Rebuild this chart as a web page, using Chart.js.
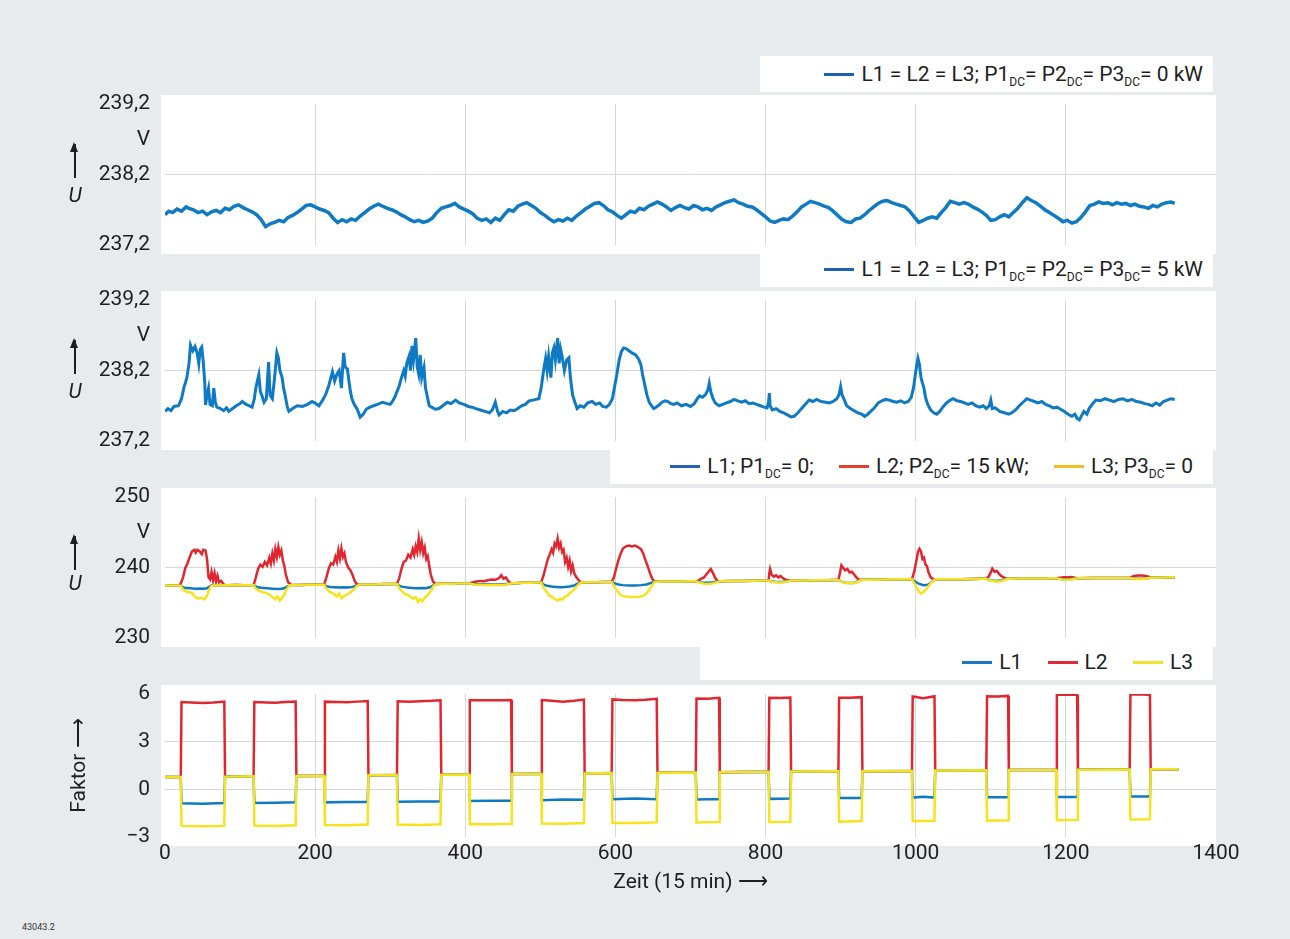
<!DOCTYPE html>
<html lang="de">
<head>
<meta charset="utf-8">
<title>Spannung und Faktor</title>
<script src="https://cdn.jsdelivr.net/npm/chart.js@4.4.1/dist/chart.umd.min.js"></script>
<style>
  html, body { margin: 0; padding: 0; }
  body {
    width: 1290px; height: 939px; position: relative; overflow: hidden;
    background: #e8ebee; color: #1e1e1e;
    font-family: Roboto, "Liberation Sans", sans-serif;
  }
  canvas { position: absolute; left: 0; }
  .leg {
    position: absolute; background: #fff; box-sizing: border-box; z-index: 2;
    font-size: 21px; line-height: 36px; height: 36px; text-align: right; white-space: nowrap;
  }
  .leg .it { display: inline-block; margin-left: 20px; }
  .leg .ln { display: inline-block; width: 30px; height: 3px; vertical-align: middle; margin-right: 7px; position: relative; top: -1px; }
  .leg sub { font-size: 12px; vertical-align: -5px; line-height: 0; }
  .ulab { position: absolute; left: 62px; width: 26px; text-align: center; font-size: 21px; font-style: italic; z-index: 2; line-height: 24px; }
  .arr { position: absolute; left: 74px; width: 1.6px; background: #1e1e1e; z-index: 2; }
  .arr::before {
    content: ''; position: absolute; left: -4px; top: -2px;
    border-left: 4.8px solid transparent; border-right: 4.8px solid transparent; border-bottom: 10px solid #1e1e1e;
  }
  .code { position: absolute; left: 22px; top: 922px; font-size: 9px; color: #333; }
</style>
</head>
<body>

<div class="leg" style="left:760px; top:56px; width:453px; padding-right:10px;">
  <span class="it"><span class="ln" style="background:#1f62b2"></span>L1 = L2 = L3; P1<sub>DC</sub>= P2<sub>DC</sub>= P3<sub>DC</sub>= 0 kW</span>
</div>
<div class="leg" style="left:760px; top:251px; width:453px; padding-right:10px;">
  <span class="it"><span class="ln" style="background:#1f62b2"></span>L1 = L2 = L3; P1<sub>DC</sub>= P2<sub>DC</sub>= P3<sub>DC</sub>= 5 kW</span>
</div>
<div class="leg" style="left:610px; top:448px; width:603px; padding-right:20px;">
  <span class="it"><span class="ln" style="background:#2a62b0"></span>L1; P1<sub>DC</sub>= 0;</span>
  <span class="it"><span class="ln" style="background:#e4402c"></span>L2; P2<sub>DC</sub>= 15 kW;</span>
  <span class="it"><span class="ln" style="background:#f3bd24"></span>L3; P3<sub>DC</sub>= 0</span>
</div>
<div class="leg" style="left:700px; top:644px; width:513px; padding-right:20px;">
  <span class="it"><span class="ln" style="background:#1a78c8"></span>L1</span>
  <span class="it"><span class="ln" style="background:#e02a36"></span>L2</span>
  <span class="it"><span class="ln" style="background:#f4e030"></span>L3</span>
</div>

<div class="arr" style="top:144px; height:34px;"></div>
<div class="ulab" style="top:183px;">U</div>
<div class="arr" style="top:340px; height:34px;"></div>
<div class="ulab" style="top:379px;">U</div>
<div class="arr" style="top:536px; height:34px;"></div>
<div class="ulab" style="top:571px;">U</div>

<canvas id="c1" width="1290" height="197" style="top:76px"></canvas>
<canvas id="c2" width="1290" height="197" style="top:272px"></canvas>
<canvas id="c3" width="1290" height="197" style="top:469px"></canvas>
<canvas id="c4" width="1290" height="241" style="top:666px"></canvas>

<div class="code">43043.2</div>

<script>
const FONT = 'Roboto, "Liberation Sans", sans-serif';

// x axis (Zeit in 15-min steps)
const xMin = 0, xMax = 1400, xStep = 200;

// Panel 1: L1 = L2 = L3, P_DC = 0 kW  [x, U in V]
const u0kW = [
  [0,237.63],[5,237.68],[10,237.66],[16,237.71],[22,237.68],[28,237.74],[32,237.72],[38,237.70],[44,237.66],[50,237.68],
  [56,237.63],[62,237.67],[68,237.69],[74,237.66],[80,237.72],[86,237.70],[92,237.75],[98,237.77],[104,237.73],[110,237.70],
  [116,237.67],[122,237.63],[128,237.56],[134,237.46],[140,237.50],[146,237.52],[152,237.55],[158,237.53],[164,237.59],[170,237.62],
  [176,237.66],[182,237.71],[188,237.76],[194,237.77],[200,237.74],[206,237.71],[212,237.69],[218,237.66],[224,237.58],[230,237.52],
  [236,237.56],[242,237.53],[248,237.57],[254,237.55],[260,237.61],[266,237.66],[272,237.71],[278,237.75],[284,237.78],[290,237.75],
  [296,237.72],[302,237.70],[308,237.67],[314,237.63],[320,237.60],[326,237.56],[332,237.53],[338,237.55],[344,237.52],[350,237.54],
  [356,237.58],[362,237.66],[368,237.72],[374,237.74],[380,237.76],[386,237.79],[392,237.74],[398,237.71],[404,237.68],[410,237.64],
  [416,237.58],[422,237.55],[428,237.57],[434,237.52],[440,237.58],[446,237.55],[452,237.63],[458,237.70],[464,237.68],[470,237.75],
  [476,237.78],[482,237.80],[488,237.76],[494,237.72],[500,237.66],[506,237.62],[512,237.57],[518,237.53],[524,237.56],[530,237.54],
  [536,237.58],[542,237.55],[548,237.61],[554,237.66],[560,237.71],[566,237.75],[572,237.79],[578,237.80],[584,237.76],[590,237.70],
  [596,237.67],[602,237.62],[608,237.58],[614,237.63],[620,237.68],[626,237.66],[632,237.72],[638,237.70],[644,237.75],[650,237.78],
  [656,237.81],[662,237.78],[668,237.74],[674,237.69],[680,237.73],[686,237.76],[692,237.73],[698,237.71],[704,237.76],[710,237.74],
  [716,237.70],[722,237.72],[728,237.69],[734,237.74],[740,237.77],[746,237.80],[752,237.82],[758,237.84],[764,237.80],[770,237.78],
  [776,237.75],[782,237.74],[788,237.70],[794,237.65],[800,237.60],[806,237.54],[812,237.52],[818,237.55],[824,237.57],[830,237.56],
  [836,237.61],[842,237.67],[848,237.74],[854,237.78],[860,237.82],[866,237.80],[872,237.78],[878,237.75],[884,237.73],[890,237.68],
  [896,237.62],[902,237.56],[908,237.53],[914,237.52],[920,237.57],[926,237.58],[932,237.63],[938,237.69],[944,237.74],[950,237.79],
  [956,237.82],[962,237.83],[968,237.80],[974,237.78],[980,237.76],[986,237.74],[992,237.68],[998,237.60],[1004,237.52],[1010,237.55],
  [1016,237.58],[1022,237.60],[1028,237.58],[1034,237.66],[1040,237.73],[1046,237.82],[1052,237.80],[1058,237.78],[1064,237.80],[1070,237.78],
  [1076,237.74],[1082,237.71],[1088,237.67],[1094,237.62],[1100,237.55],[1106,237.56],[1112,237.60],[1118,237.63],[1124,237.60],[1130,237.66],
  [1136,237.72],[1142,237.80],[1148,237.87],[1154,237.83],[1160,237.80],[1166,237.75],[1172,237.70],[1178,237.66],[1184,237.62],[1190,237.58],
  [1196,237.53],[1202,237.55],[1208,237.51],[1214,237.53],[1220,237.59],[1226,237.67],[1232,237.76],[1238,237.78],[1244,237.81],[1250,237.79],
  [1256,237.80],[1262,237.77],[1268,237.80],[1274,237.78],[1280,237.79],[1286,237.76],[1292,237.78],[1298,237.75],[1304,237.74],[1310,237.72],
  [1316,237.76],[1322,237.74],[1328,237.78],[1334,237.80],[1340,237.81],[1345,237.79]
];

// Panel 2: L1 = L2 = L3, P_DC = 5 kW
const u5kW = [
  [0,237.62],[4,237.66],[8,237.63],[12,237.69],[18,237.70],[22,237.80],[25,237.95],[29,238.09],[32,238.30],[34,238.56],
  [37,238.48],[40,238.54],[43,238.44],[45,238.30],[47,238.50],[49,238.53],[51,238.32],[53,238.02],[54,237.71],[56,237.85],
  [58,237.95],[60,237.72],[63,237.70],[65,237.95],[67,237.75],[69,237.68],[74,237.66],[78,237.63],[82,237.67],[85,237.62],
  [90,237.66],[95,237.70],[100,237.73],[103,237.76],[108,237.72],[112,237.70],[116,237.68],[119,237.80],[121,237.95],[123,238.05],
  [125,238.14],[127,237.90],[129,237.85],[132,237.75],[135,237.80],[138,238.32],[140,237.85],[143,237.80],[146,238.10],[149,238.45],
  [151,238.38],[153,238.20],[156,238.10],[158,237.95],[160,237.85],[163,237.68],[165,237.62],[170,237.66],[176,237.70],[183,237.69],
  [190,237.72],[196,237.76],[200,237.74],[205,237.70],[210,237.78],[214,237.86],[218,237.98],[221,238.10],[223,238.18],[226,238.05],
  [229,238.15],[232,238.20],[235,237.95],[237,238.30],[238,238.45],[240,238.25],[243,238.22],[245,238.05],[247,237.90],[249,237.80],
  [252,237.72],[256,237.65],[260,237.54],[264,237.58],[268,237.65],[273,237.68],[278,237.70],[283,237.72],[290,237.75],[296,237.73],
  [300,237.72],[303,237.76],[306,237.82],[309,237.90],[312,237.98],[315,238.10],[318,238.20],[320,238.12],[322,238.30],[325,238.40],
  [327,238.20],[329,238.55],[331,238.35],[334,238.66],[336,238.25],[338,238.15],[340,238.42],[342,238.10],[345,238.24],[347,237.95],
  [350,237.80],[352,237.70],[355,237.68],[360,237.65],[365,237.66],[370,237.70],[376,237.75],[381,237.73],[387,237.78],[392,237.74],
  [398,237.72],[404,237.69],[409,237.68],[414,237.66],[420,237.64],[426,237.62],[432,237.60],[436,237.64],[440,237.75],[443,237.62],
  [445,237.57],[450,237.62],[455,237.60],[460,237.64],[465,237.63],[470,237.66],[475,237.70],[480,237.72],[485,237.77],[490,237.78],
  [494,237.79],[498,237.80],[501,237.95],[503,238.10],[505,238.25],[507,238.37],[509,238.20],[511,238.40],[514,238.10],[516,238.45],
  [518,238.52],[520,238.35],[523,238.66],[525,238.30],[527,238.50],[529,238.40],[532,238.20],[535,238.35],[538,238.38],[540,238.10],
  [543,237.85],[546,237.75],[549,237.66],[553,237.70],[558,237.68],[563,237.74],[569,237.76],[574,237.72],[579,237.74],[583,237.69],
  [588,237.68],[592,237.72],[596,237.80],[599,237.98],[602,238.15],[605,238.35],[608,238.47],[611,238.52],[614,238.51],[618,238.48],
  [622,238.45],[627,238.42],[631,238.36],[634,238.28],[636,238.15],[639,238.00],[642,237.85],[645,237.75],[648,237.70],[651,237.66],
  [654,237.68],[658,237.71],[662,237.75],[666,237.77],[670,237.76],[674,237.73],[678,237.72],[682,237.74],[688,237.70],[694,237.72],
  [700,237.69],[705,237.73],[709,237.80],[712,237.84],[716,237.82],[720,237.86],[723,237.92],[725,238.02],[727,237.90],[730,237.80],
  [733,237.74],[738,237.70],[743,237.72],[748,237.74],[753,237.76],[758,237.79],[763,237.77],[768,237.75],[773,237.77],[778,237.73],
  [783,237.74],[788,237.72],[793,237.70],[798,237.68],[802,237.67],[804,237.75],[805,237.88],[806,237.70],[809,237.64],[814,237.66],
  [819,237.62],[824,237.60],[829,237.57],[834,237.54],[838,237.55],[843,237.60],[848,237.66],[853,237.72],[858,237.78],[863,237.76],
  [868,237.79],[874,237.76],[880,237.75],[885,237.74],[890,237.76],[895,237.80],[898,237.86],[900,237.97],[902,237.85],[905,237.78],
  [908,237.70],[913,237.66],[918,237.63],[923,237.60],[928,237.58],[932,237.55],[936,237.58],[940,237.62],[945,237.67],[950,237.74],
  [955,237.77],[960,237.79],[965,237.78],[970,237.76],[975,237.75],[980,237.77],[985,237.74],[990,237.76],[994,237.82],[997,237.95],
  [999,238.10],[1001,238.25],[1003,238.37],[1005,238.28],[1007,238.10],[1009,238.02],[1011,237.95],[1013,237.82],[1016,237.72],[1020,237.64],
  [1024,237.60],[1028,237.58],[1032,237.62],[1036,237.68],[1041,237.74],[1046,237.78],[1050,237.80],[1055,237.77],[1060,237.76],[1065,237.74],
  [1070,237.72],[1075,237.74],[1080,237.70],[1085,237.68],[1090,237.70],[1094,237.66],[1098,237.70],[1100,237.78],[1102,237.66],[1106,237.67],
  [1112,237.62],[1118,237.60],[1124,237.58],[1128,237.60],[1133,237.64],[1138,237.70],[1143,237.75],[1148,237.80],[1153,237.78],[1158,237.76],
  [1163,237.74],[1168,237.76],[1173,237.72],[1178,237.70],[1183,237.67],[1188,237.68],[1193,237.65],[1198,237.62],[1203,237.58],[1208,237.55],
  [1212,237.58],[1215,237.52],[1218,237.50],[1221,237.56],[1224,237.62],[1228,237.58],[1231,237.66],[1235,237.72],[1240,237.78],[1246,237.77],
  [1252,237.80],[1258,237.78],[1264,237.76],[1270,237.79],[1276,237.80],[1282,237.77],[1288,237.79],[1294,237.76],[1300,237.75],[1305,237.73],
  [1310,237.72],[1315,237.70],[1320,237.74],[1325,237.71],[1330,237.76],[1335,237.78],[1340,237.80],[1345,237.79]
];

// Panel 3: only L2 fed with 15 kW
const u15L1 = [
  [0,237.45],[10,237.44],[18,237.46],[21,237.42],[24,237.2],[28,237.08],[34,237.05],[40,237.0],[46,237.02],[52,236.98],[56,237.05],[59,237.3],[62,237.45],
  [84,237.47],[95,237.50],[105,237.48],[115,237.50],
  [118,237.5],[121,237.3],[125,237.15],[131,237.1],[137,237.05],[143,237.0],[149,236.95],[155,237.0],[160,237.1],[164,237.35],[168,237.5],
  [180,237.52],[190,237.55],[200,237.57],[208,237.56],
  [212,237.56],[215,237.35],[220,237.25],[226,237.2],[232,237.15],[238,237.2],[244,237.15],[250,237.25],[255,237.45],[260,237.58],
  [276,237.6],[285,237.62],[295,237.65],[305,237.66],
  [309,237.66],[312,237.4],[317,237.25],[323,237.15],[329,237.1],[335,237.05],[341,237.1],[347,237.05],[353,237.2],[358,237.5],[362,237.66],
  [372,237.68],[382,237.70],[392,237.72],[402,237.72],
  [405,237.72],[412,237.65],[420,237.62],[430,237.6],[440,237.62],[450,237.6],[458,237.68],[462,237.76],
  [466,237.78],[476,237.82],[486,237.85],[496,237.86],
  [501,237.86],[504,237.6],[509,237.4],[515,237.3],[521,237.25],[527,237.2],[533,237.25],[539,237.3],[545,237.45],[550,237.7],[554,237.88],
  [564,237.9],[574,237.92],[584,237.95],[593,237.96],
  [595,237.96],[599,237.75],[604,237.6],[610,237.5],[618,237.45],[626,237.45],[634,237.5],[641,237.6],[647,237.8],[652,237.98],
  [660,238.0],[670,238.02],[680,238.0],[690,238.03],[700,238.05],
  [707,238.05],[712,237.9],[718,237.85],[724,237.85],[730,237.9],[736,238.02],[739,238.06],
  [755,238.08],[770,238.1],[785,238.12],[798,238.14],
  [804,238.14],[808,238.0],[815,237.95],[822,237.95],[829,238.05],[834,238.15],
  [850,238.15],[865,238.18],[880,238.2],[893,238.22],
  [897,238.22],[901,238.0],[907,237.85],[913,237.8],[919,237.85],[924,238.1],[929,238.25],
  [945,238.26],[960,238.3],[975,238.32],[990,238.34],
  [995,238.34],[999,238.0],[1004,237.7],[1010,237.5],[1016,237.55],[1021,237.9],[1026,238.35],
  [1045,238.32],[1060,238.35],[1075,238.38],[1088,238.40],
  [1094,238.40],[1099,238.2],[1106,238.1],[1113,238.15],[1120,238.35],[1124,238.42],
  [1140,238.44],[1155,238.43],[1170,238.45],[1183,238.46],
  [1187,238.46],[1195,238.35],[1205,238.32],[1216,238.48],
  [1235,238.5],[1250,238.52],[1265,238.5],[1280,238.52],
  [1285,238.52],[1293,238.42],[1303,238.4],[1313,238.55],
  [1330,238.58],[1345,238.60]
];
const u15L2 = [
  [0,237.45],[10,237.44],[18,237.46],
  [21,237.7],[24,238.6],[27,239.9],[30,240.6],[33,241.5],[36,242.3],[39,242.5],[41,242.1],[43,242.5],[46,242.3],[49,241.9],[51,242.5],[54,242.4],
  [56,241.2],[58,238.6],[60,238.3],[62,239.4],[64,238.2],[66,239.2],[68,238.0],[70,238.8],[72,237.9],[75,238.1],[78,237.6],[80,237.5],
  [84,237.47],[95,237.50],[105,237.48],[115,237.50],
  [118,237.5],[121,238.6],[124,239.8],[127,240.4],[130,240.1],[133,240.8],[136,240.3],[139,241.4],[141,240.6],[143,242.0],[145,241.0],[147,242.6],
  [149,241.5],[151,242.9],[153,241.8],[155,242.4],[157,241.0],[159,240.2],[161,239.0],[164,237.9],[168,237.55],
  [180,237.52],[190,237.55],[200,237.57],[208,237.56],
  [212,237.56],[215,238.6],[218,239.8],[221,240.6],[224,240.4],[227,241.5],[229,240.8],[231,242.4],[233,241.3],[235,242.7],[237,241.5],[239,242.0],
  [241,240.8],[244,240.0],[247,239.6],[250,238.9],[253,238.0],[256,237.6],[262,237.58],
  [276,237.6],[285,237.62],[295,237.65],[305,237.66],
  [309,237.66],[312,238.5],[315,239.8],[318,240.8],[321,241.0],[324,241.8],[327,241.4],[330,242.6],[332,241.8],[334,243.0],[336,242.2],[338,244.1],
  [340,242.5],[342,243.6],[344,242.0],[346,242.8],[348,241.2],[350,241.6],[352,240.2],[354,239.0],[357,238.0],[360,237.7],[368,237.68],
  [382,237.70],[392,237.72],[402,237.72],
  [405,237.72],[410,237.9],[415,238.0],[420,238.1],[425,238.05],[430,238.2],[435,238.3],[440,238.25],[445,238.5],[448,238.9],[451,238.4],[454,238.6],
  [457,238.1],[460,237.85],[462,237.78],
  [466,237.78],[476,237.82],[486,237.85],[496,237.86],
  [501,237.86],[504,238.8],[507,240.0],[510,241.2],[513,242.0],[515,242.6],[517,242.1],[519,243.4],[521,243.0],[523,244.1],[525,242.8],[527,243.4],
  [529,242.2],[531,242.5],[533,240.8],[535,241.4],[537,240.1],[539,241.0],[541,239.5],[543,240.3],[545,239.2],[548,238.6],[551,238.2],[554,237.9],
  [564,237.9],[574,237.92],[584,237.95],[593,237.96],
  [595,237.96],[598,238.6],[601,239.9],[604,241.0],[607,242.0],[610,242.7],[614,243.0],[618,243.1],[622,243.0],[626,243.1],[630,242.9],[634,242.6],
  [637,242.0],[640,241.0],[643,240.2],[646,239.2],[649,238.4],[652,238.05],[656,238.0],
  [670,238.02],[680,238.0],[690,238.03],[700,238.05],
  [707,238.05],[710,238.1],[714,238.4],[718,238.6],[721,239.0],[724,239.4],[727,239.8],[730,239.2],[733,238.5],[736,238.1],[739,238.06],
  [755,238.08],[770,238.1],[785,238.12],[798,238.14],
  [804,238.14],[805,239.2],[806,239.8],[808,239.0],[811,238.7],[814,238.9],[817,238.6],[820,238.8],[823,238.5],[826,238.3],[829,238.2],[834,238.15],
  [850,238.15],[865,238.18],[880,238.2],[893,238.22],
  [897,238.22],[899,239.2],[901,240.3],[903,240.0],[906,239.6],[909,239.8],[912,239.3],[915,239.4],[918,239.0],[921,238.6],[924,238.3],[929,238.25],
  [945,238.26],[960,238.3],[975,238.32],[990,238.34],
  [995,238.34],[998,239.4],[1001,241.0],[1003,242.2],[1005,242.65],[1007,242.3],[1009,241.2],[1011,241.4],[1013,240.4],[1015,240.2],[1017,239.3],
  [1020,238.6],[1023,238.36],[1026,238.35],
  [1045,238.32],[1060,238.35],[1075,238.38],[1088,238.40],
  [1094,238.40],[1097,238.7],[1100,239.3],[1102,239.85],[1105,239.4],[1108,239.5],[1111,239.1],[1114,238.8],[1117,238.6],[1120,238.45],[1124,238.42],
  [1140,238.44],[1155,238.43],[1170,238.45],[1183,238.46],
  [1187,238.46],[1192,238.55],[1197,238.62],[1202,238.6],[1207,238.66],[1212,238.55],[1216,238.48],
  [1235,238.5],[1250,238.52],[1265,238.5],[1280,238.52],
  [1285,238.52],[1290,238.75],[1295,238.85],[1300,238.88],[1305,238.82],[1310,238.7],[1313,238.55],
  [1330,238.58],[1345,238.60]
];
const u15L3 = [
  [0,237.45],[10,237.44],[18,237.46],
  [21,237.4],[24,236.9],[28,236.6],[33,236.5],[37,236.3],[40,235.8],[44,235.6],[48,235.7],[52,235.5],[55,235.8],[58,236.6],[61,237.3],[64,237.46],
  [84,237.47],[95,237.50],[105,237.48],[115,237.50],
  [118,237.5],[121,237.0],[125,236.7],[130,236.5],[135,236.4],[140,236.1],[143,235.8],[147,235.5],[150,235.9],[153,235.3],[156,235.7],[159,236.2],
  [162,236.9],[166,237.5],
  [180,237.52],[190,237.55],[200,237.57],[208,237.56],
  [212,237.56],[215,237.0],[219,236.6],[224,236.3],[229,235.9],[232,236.3],[235,235.6],[238,235.9],[241,236.1],[246,236.4],[251,236.8],[255,237.3],
  [259,237.58],
  [276,237.6],[285,237.62],[295,237.65],[305,237.66],
  [309,237.66],[312,237.1],[316,236.6],[320,236.2],[325,236.0],[330,235.6],[334,235.8],[337,235.1],[340,235.5],[343,235.2],[346,235.7],[350,236.1],
  [354,236.7],[358,237.4],[362,237.68],
  [372,237.68],[382,237.70],[392,237.72],[402,237.72],
  [405,237.72],[412,237.6],[420,237.55],[430,237.5],[440,237.55],[450,237.5],[458,237.65],[462,237.78],
  [466,237.78],[476,237.82],[486,237.85],[496,237.86],
  [501,237.86],[504,237.2],[508,236.6],[512,236.0],[516,235.8],[520,235.5],[523,235.3],[526,235.6],[529,235.4],[532,235.8],[536,236.0],[540,236.4],
  [545,236.9],[550,237.5],[554,237.88],
  [564,237.9],[574,237.92],[584,237.95],[593,237.96],
  [595,237.96],[598,237.4],[602,236.7],[606,236.2],[610,235.95],[616,235.85],[624,235.8],[632,235.85],[638,236.0],[643,236.5],[648,237.3],[652,237.95],
  [660,238.0],[670,238.02],[680,238.0],[690,238.03],[700,238.05],
  [707,238.05],[712,237.85],[718,237.7],[724,237.65],[730,237.75],[736,237.95],[739,238.06],
  [755,238.08],[770,238.1],[785,238.12],[798,238.14],
  [804,238.14],[808,237.95],[815,237.9],[822,237.88],[829,238.0],[834,238.15],
  [850,238.15],[865,238.18],[880,238.2],[893,238.22],
  [897,238.22],[901,237.95],[907,237.8],[913,237.75],[919,237.8],[924,238.05],[929,238.25],
  [945,238.26],[960,238.3],[975,238.32],[990,238.34],
  [995,238.34],[998,237.8],[1001,237.2],[1004,236.6],[1007,236.3],[1010,236.5],[1014,236.9],[1018,237.5],[1022,238.0],[1026,238.35],
  [1045,238.32],[1060,238.35],[1075,238.38],[1088,238.40],
  [1094,238.40],[1099,238.15],[1106,238.0],[1113,238.05],[1120,238.3],[1124,238.42],
  [1140,238.44],[1155,238.43],[1170,238.45],[1183,238.46],
  [1187,238.46],[1195,238.3],[1205,238.28],[1216,238.48],
  [1235,238.5],[1250,238.52],[1265,238.5],[1280,238.52],
  [1285,238.52],[1293,238.38],[1303,238.36],[1313,238.55],
  [1330,238.58],[1345,238.60]
];

// Panel 4: Faktor per phase
const faktorL1 = [
  [0,0.77],[21,0.78],[22,-0.88],[50,-0.9],[79,-0.86],[80,0.8],[118,0.82],[119,-0.86],[147,-0.84],[174,-0.82],[175,0.84],
  [212,0.86],[213,-0.82],[242,-0.8],[270,-0.8],[271,0.88],[309,0.9],[310,-0.78],[340,-0.76],[367,-0.76],[368,0.92],
  [405,0.94],[406,-0.74],[435,-0.72],[461,-0.72],[462,0.96],[501,0.98],[502,-0.68],[530,-0.64],[558,-0.66],[559,1.0],
  [595,1.02],[596,-0.62],[626,-0.58],[655,-0.62],[656,1.04],[707,1.06],[708,-0.64],[723,-0.62],[738,-0.62],[739,1.08],
  [804,1.1],[805,-0.6],[833,-0.58],[834,1.12],[897,1.13],[898,-0.55],[928,-0.54],[929,1.14],
  [995,1.16],[996,-0.52],[1010,-0.46],[1025,-0.52],[1026,1.18],[1094,1.2],[1095,-0.5],[1123,-0.5],[1124,1.21],
  [1187,1.22],[1188,-0.48],[1215,-0.48],[1216,1.23],[1285,1.25],[1286,-0.45],[1312,-0.45],[1313,1.26],[1350,1.27]
];
const faktorL2 = [
  [0,0.77],[21,0.78],[22,5.5],[35,5.47],[50,5.44],[65,5.47],[79,5.52],[80,0.8],
  [118,0.82],[119,5.5],[135,5.47],[147,5.45],[160,5.5],[174,5.53],[175,0.84],
  [212,0.86],[213,5.52],[230,5.5],[242,5.48],[256,5.52],[270,5.56],[271,0.88],
  [309,0.9],[310,5.54],[325,5.52],[340,5.55],[355,5.57],[367,5.6],[368,0.92],
  [405,0.94],[406,5.6],[420,5.6],[435,5.6],[450,5.6],[461,5.62],[462,0.96],
  [501,0.98],[502,5.62],[515,5.58],[530,5.52],[545,5.58],[558,5.65],[559,1.0],
  [595,1.02],[596,5.66],[610,5.62],[626,5.6],[640,5.64],[655,5.7],[656,1.04],
  [707,1.06],[708,5.72],[723,5.7],[738,5.76],[739,1.08],
  [804,1.1],[805,5.76],[819,5.75],[833,5.78],[834,1.12],
  [897,1.13],[898,5.76],[913,5.76],[928,5.8],[929,1.14],
  [995,1.16],[996,5.84],[1010,5.74],[1025,5.86],[1026,1.18],
  [1094,1.2],[1095,5.86],[1109,5.85],[1123,5.88],[1124,1.21],
  [1187,1.22],[1188,5.95],[1202,5.96],[1215,5.96],[1216,1.23],
  [1285,1.25],[1286,5.97],[1300,5.97],[1312,5.96],[1313,1.26],[1350,1.27]
];
const faktorL3 = [
  [0,0.77],[21,0.78],[22,-2.3],[50,-2.32],[79,-2.3],[80,0.8],[118,0.82],[119,-2.28],[147,-2.3],[174,-2.26],[175,0.84],
  [212,0.86],[213,-2.25],[242,-2.26],[270,-2.22],[271,0.88],[309,0.9],[310,-2.22],[340,-2.24],[367,-2.2],[368,0.92],
  [405,0.94],[406,-2.2],[435,-2.2],[461,-2.16],[462,0.96],[501,0.98],[502,-2.15],[530,-2.16],[558,-2.12],[559,1.0],
  [595,1.02],[596,-2.12],[626,-2.12],[655,-2.08],[656,1.04],[707,1.06],[708,-2.08],[738,-2.06],[739,1.08],
  [804,1.1],[805,-2.06],[833,-2.04],[834,1.12],[897,1.13],[898,-2.04],[928,-2.0],[929,1.14],
  [995,1.16],[996,-2.0],[1025,-1.98],[1026,1.18],[1094,1.2],[1095,-1.98],[1123,-1.95],[1124,1.21],
  [1187,1.22],[1188,-1.94],[1215,-1.92],[1216,1.23],[1285,1.25],[1286,-1.9],[1312,-1.88],[1313,1.26],[1350,1.27]
];

// y ticks per panel (unit "V" sits between the upper two ticks)
const ticksU1 = [237.2, 238.2, 239.2];
const ticksU3 = [230, 240, 250];
const ticksF = [-3, 0, 3, 6];

const BLUE = '#0f7ac4', RED = '#e0262f', YELLOW = '#f8e21c';
const GRID = '#d6d8da', TEXT = '#1e1e1e';

// white plot background like the printed page
const whiteArea = {
  id: 'whiteArea',
  beforeDraw(chart) {
    const { ctx, chartArea: a } = chart;
    ctx.save();
    ctx.fillStyle = '#ffffff';
    ctx.fillRect(a.left - 4, a.top - 9, a.right - a.left + 4, a.bottom - a.top + 18);
    ctx.restore();
  }
};

function toPts(arr) {
  return arr.map(p => ({ x: p[0], y: p[1] }));
}

function createPanel(canvasId, series, yCfg, bottomAxis) {
  const ctx = document.getElementById(canvasId).getContext('2d');
  const tickVals = yCfg.unitAt !== undefined ? [...yCfg.ticks, yCfg.unitAt].sort((a, b) => a - b) : yCfg.ticks;

  new Chart(ctx, {
    type: 'line',
    data: {
      datasets: series.map(s => ({
        data: toPts(s.data),
        borderColor: s.color,
        borderWidth: s.width,
        pointRadius: 0,
        tension: 0,
        fill: false
      }))
    },
    options: {
      responsive: false,
      animation: false,
      devicePixelRatio: 1,
      layout: { padding: { top: 28, bottom: bottomAxis ? 0 : 28, left: 0, right: 74 } },
      plugins: { legend: { display: false }, tooltip: { enabled: false } },
      scales: {
        x: {
          type: 'linear',
          min: xMin,
          max: xMax,
          border: { display: false },
          grid: {
            drawTicks: false,
            color: c => (c.tick && c.tick.value > xMin && c.tick.value < xMax) ? GRID : 'rgba(0,0,0,0)'
          },
          ticks: {
            display: bottomAxis,
            stepSize: xStep,
            maxRotation: 0,
            padding: 4,
            color: TEXT,
            font: { family: FONT, size: 21 },
            callback: v => String(v)
          },
          title: {
            display: bottomAxis,
            text: 'Zeit (15 min) \u27F6',
            color: TEXT,
            font: { family: FONT, size: 21 },
            padding: { top: 0, bottom: 12 }
          },
          afterFit: a => { a.height = bottomAxis ? 70 : 0; }
        },
        y: {
          min: yCfg.min,
          max: yCfg.max,
          border: { display: false },
          afterBuildTicks: a => { a.ticks = tickVals.map(v => ({ value: v })); },
          grid: {
            drawTicks: false,
            color: c => (c.tick && yCfg.grid.includes(c.tick.value)) ? GRID : 'rgba(0,0,0,0)'
          },
          ticks: {
            padding: 15,
            color: TEXT,
            font: { family: FONT, size: 21 },
            callback: v => (v === yCfg.unitAt ? 'V' : yCfg.fmt(v))
          },
          title: {
            display: !!yCfg.title,
            text: yCfg.title || '',
            color: TEXT,
            font: { family: FONT, size: 21 },
            padding: { top: 67, bottom: 0 }
          },
          afterFit: a => { a.width = 165; }
        }
      }
    },
    plugins: [whiteArea]
  });
}

const fmtDec = v => v.toFixed(1).replace('.', ',');
const fmtInt = v => (v < 0 ? '\u2212' + Math.abs(v) : String(v));

// first dataset is drawn on top, so L3 (yellow) comes first
createPanel('c1', [{ data: u0kW, color: BLUE, width: 3.5 }],
  { min: 237.2, max: 239.2, ticks: ticksU1, unitAt: 238.7, grid: [238.2], fmt: fmtDec }, false);

createPanel('c2', [{ data: u5kW, color: BLUE, width: 3 }],
  { min: 237.2, max: 239.2, ticks: ticksU1, unitAt: 238.7, grid: [238.2], fmt: fmtDec }, false);

createPanel('c3', [
    { data: u15L3, color: YELLOW, width: 2.5 },
    { data: u15L1, color: BLUE, width: 2.5 },
    { data: u15L2, color: RED, width: 2.5 }
  ],
  { min: 230, max: 250, ticks: ticksU3, unitAt: 245, grid: [240], fmt: fmtInt }, false);

createPanel('c4', [
    { data: faktorL3, color: YELLOW, width: 2.5 },
    { data: faktorL1, color: BLUE, width: 2.5 },
    { data: faktorL2, color: RED, width: 2.5 }
  ],
  { min: -3, max: 6, ticks: ticksF, grid: [0, 3], fmt: fmtInt, title: 'Faktor \u27F6' }, true);
</script>
</body>
</html>
